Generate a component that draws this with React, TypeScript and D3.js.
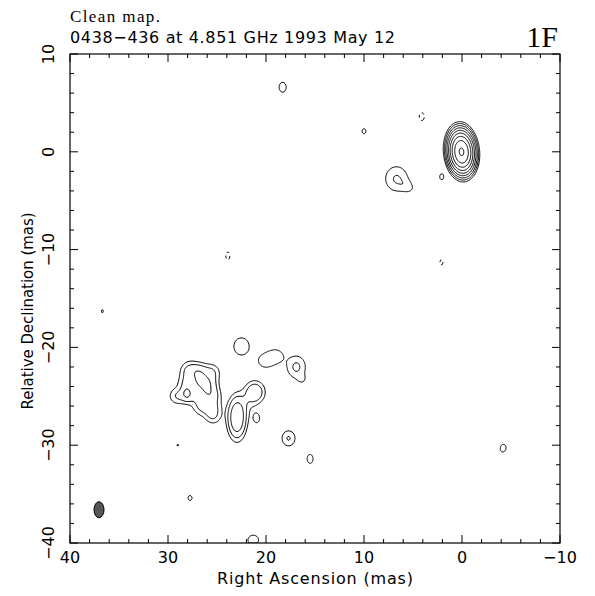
import React, { useMemo } from "react";
import * as d3 from "d3";

const W = 595;
const H = 596;
const FRAME = { left: 70, right: 560, top: 54, bottom: 543 };

const raDomain = [40, -10];
const decDomain = [10, -40];
const xMajorTicks = [40, 30, 20, 10, 0, -10];
const yMajorTicks = [10, 0, -10, -20, -30, -40];
const minorStep = 2;

const titleLine1 = "Clean map.";
const titleLine2 = "0438\u2212436 at 4.851 GHz 1993 May 12";
const panelLabel = "1F";
const xLabel = "Right Ascension  (mas)";
const yLabel = "Relative Declination  (mas)";

// Model components of the map: position (mas), peak (lowest-contour units),
// sigma along major / minor axis (mas), angle of major axis (deg, counter-clockwise from screen right)
const compRa = [
  0.05, 6.69, 5.51, 2.07, 18.3, 10.0, 4.1, 23.9, 2.1, 36.7, -4.2, 27.75, 21.3, 15.5, 29.0, 17.7,
  22.5, 20.1, 18.98, 16.9, 16.3,
  27.96, 26.73, 25.51, 28.16, 26.94, 25.71, 29.08, 27.86, 26.63, 25.51, 26.63, 25.51, 25.41, 26.43, 28.09,
  22.96, 21.13, 20.95, 22.04,
];
const compDec = [
  0.0, -2.75, -3.6, -2.55, 6.6, 2.1, 3.6, -10.65, -11.3, -16.3, -30.3, -35.4, -39.7, -31.4, -30.0, -29.3,
  -19.9, -21.39, -20.88, -22.0, -23.3,
  -22.41, -22.41, -22.52, -23.64, -23.64, -23.64, -24.97, -24.97, -24.87, -24.87, -26.09, -26.09, -27.01, -23.44, -24.69,
  -27.2, -24.57, -27.25, -25.58,
];
const compAmp = [
  280, 2.1, 1.0, 1.3, 1.5, 1.3, -1.3, -1.3, -1.2, 1.08, 1.4, 1.25, 1.5, 1.4, 1.05, 2.1,
  1.6, 1.45, 1.45, 2.26, 0.8,
  1.9, 1.9, 1.9, 1.9, 1.9, 1.9, 1.9, 1.9, 1.9, 1.9, 1.9, 1.9, 1.9, 2.0, 2.4,
  7.5, 3.6, 1.3, 0.9,
];
const compMaj = [
  0.92, 1.0, 0.6, 0.42, 0.56, 0.35, 0.55, 0.55, 0.45, 0.4, 0.48, 0.38, 0.6, 0.55, 0.3, 0.63,
  0.9, 0.7, 0.7, 0.86, 0.4,
  0.6, 0.6, 0.6, 0.6, 0.6, 0.6, 0.6, 0.6, 0.6, 0.6, 0.6, 0.6, 0.6, 1.4, 0.45,
  1.25, 0.72, 0.6, 0.9,
];
const compMin = [
  0.55, 0.9, 0.45, 0.28, 0.4, 0.28, 0.35, 0.28, 0.25, 0.25, 0.36, 0.3, 0.55, 0.37, 0.3, 0.54,
  0.8, 0.65, 0.65, 0.71, 0.4,
  0.6, 0.6, 0.6, 0.6, 0.6, 0.6, 0.6, 0.6, 0.6, 0.6, 0.6, 0.6, 0.6, 0.55, 0.32,
  0.56, 0.65, 0.4, 0.7,
];
const compAngle = [
  95, 90, -30, 90, 90, 90, 90, 90, 90, 90, 80, 90, 0, 90, 0, 90,
  90, 0, 0, 90, 0,
  0, 0, 0, 0, 0, 0, 0, 0, 0, 0, 0, 0, 0, -54, 90,
  90, 90, 90, 60,
];

const posLevels = [1, 2, 4, 8, 16, 32, 64, 128, 256];
const negLevels = [1];

// restoring beam (FWHM, mas)
const beamRa = [37.04];
const beamDec = [-36.6];
const beamMaj = [1.64];
const beamMin = [1.02];
const beamAngle = [0];

const RES = 0.1;
const NX = Math.round((raDomain[0] - raDomain[1]) / RES);
const NY = Math.round((decDomain[0] - decDomain[1]) / RES);

function buildGrid(): Float64Array {
  const v = new Float64Array(NX * NY);
  for (let k = 0; k < compRa.length; k++) {
    const a = compAmp[k];
    const s1 = compMaj[k];
    const s2 = compMin[k];
    const th = (compAngle[k] * Math.PI) / 180;
    const c = Math.cos(th);
    const s = Math.sin(th);
    const R = 5 * Math.max(s1, s2);
    const i0 = Math.max(0, Math.floor((raDomain[0] - (compRa[k] + R)) / RES));
    const i1 = Math.min(NX - 1, Math.ceil((raDomain[0] - (compRa[k] - R)) / RES));
    const j0 = Math.max(0, Math.floor((decDomain[0] - (compDec[k] + R)) / RES));
    const j1 = Math.min(NY - 1, Math.ceil((decDomain[0] - (compDec[k] - R)) / RES));
    for (let j = j0; j <= j1; j++) {
      const dec = decDomain[0] - (j + 0.5) * RES;
      const dv = dec - compDec[k];
      for (let i = i0; i <= i1; i++) {
        const ra = raDomain[0] - (i + 0.5) * RES;
        const du = compRa[k] - ra;
        const p = du * c + dv * s;
        const q = -du * s + dv * c;
        v[j * NX + i] += a * Math.exp(-0.5 * ((p * p) / (s1 * s1) + (q * q) / (s2 * s2)));
      }
    }
  }
  return v;
}

export default function App() {
  const x = d3.scaleLinear().domain(raDomain).range([FRAME.left, FRAME.right]);
  const y = d3.scaleLinear().domain(decDomain).range([FRAME.top, FRAME.bottom]);

  const { posPaths, negPaths } = useMemo(() => {
    const grid = buildGrid();
    const neg = grid.map((v) => -v);
    const toPath = (mp: any) => {
      let d = "";
      for (const poly of mp.coordinates) {
        for (const ring of poly) {
          ring.forEach((pt: number[], idx: number) => {
            const px = x(raDomain[0] - pt[0] * RES);
            const py = y(decDomain[0] - pt[1] * RES);
            d += (idx ? "L" : "M") + px.toFixed(2) + "," + py.toFixed(2);
          });
          d += "Z";
        }
      }
      return d;
    };
    const pos = d3.contours().size([NX, NY]).thresholds(posLevels)(Array.from(grid)).map(toPath);
    const ng = d3.contours().size([NX, NY]).thresholds(negLevels)(Array.from(neg)).map(toPath);
    return { posPaths: pos, negPaths: ng };
  }, []);

  const xMinor = d3.range(raDomain[1], raDomain[0] + 0.001, minorStep);
  const yMinor = d3.range(decDomain[1], decDomain[0] + 0.001, minorStep);
  const fmt = (v: number) => (v < 0 ? "\u2212" + Math.abs(v) : String(v));
  const sans = "'DejaVu Sans', sans-serif";

  const pxPerMasX = Math.abs(x(1) - x(0));
  const pxPerMasY = Math.abs(y(1) - y(0));

  return (
    <svg width={W} height={H} style={{ position: "absolute", left: 0, top: 0, background: "#fff" }}>
      <rect x={0} y={0} width={W} height={H} fill="#fff" />
      <defs>
        <clipPath id="plotclip">
          <rect x={FRAME.left} y={FRAME.top} width={FRAME.right - FRAME.left} height={FRAME.bottom - FRAME.top} />
        </clipPath>
      </defs>
      <g clipPath="url(#plotclip)" fill="none" stroke="#000" strokeWidth={1}>
        {posPaths.map((d, i) => (
          <path key={"p" + i} d={d} />
        ))}
        {negPaths.map((d, i) => (
          <path key={"n" + i} d={d} strokeDasharray="3,3" />
        ))}
      </g>
      {beamRa.map((b, i) => (
        <ellipse
          key={"beam" + i}
          cx={x(b)}
          cy={y(beamDec[i])}
          rx={(beamMin[i] / 2) * pxPerMasX}
          ry={(beamMaj[i] / 2) * pxPerMasY}
          transform={`rotate(${-beamAngle[i]} ${x(b)} ${y(beamDec[i])})`}
          fill="#555"
          stroke="#000"
          strokeWidth={1}
        />
      ))}
      <rect
        x={FRAME.left}
        y={FRAME.top}
        width={FRAME.right - FRAME.left}
        height={FRAME.bottom - FRAME.top}
        fill="none"
        stroke="#000"
        strokeWidth={1.2}
      />
      <g stroke="#000" strokeWidth={1}>
        {xMinor.map((v) => {
          const major = xMajorTicks.includes(v);
          const len = major ? 8 : 4;
          return (
            <g key={"xt" + v}>
              <line x1={x(v)} x2={x(v)} y1={FRAME.bottom} y2={FRAME.bottom - len} />
              <line x1={x(v)} x2={x(v)} y1={FRAME.top} y2={FRAME.top + len} />
            </g>
          );
        })}
        {yMinor.map((v) => {
          const major = yMajorTicks.includes(v);
          const len = major ? 8 : 4;
          return (
            <g key={"yt" + v}>
              <line x1={FRAME.left} x2={FRAME.left + len} y1={y(v)} y2={y(v)} />
              <line x1={FRAME.right} x2={FRAME.right - len} y1={y(v)} y2={y(v)} />
            </g>
          );
        })}
      </g>
      <g fontFamily={sans} fontSize={16} fill="#000">
        {xMajorTicks.map((v) => (
          <text key={"xl" + v} x={x(v)} y={563} textAnchor="middle">
            {fmt(v)}
          </text>
        ))}
        {yMajorTicks.map((v) => (
          <text key={"yl" + v} transform={`translate(54,${y(v)}) rotate(-90)`} textAnchor="middle">
            {fmt(v)}
          </text>
        ))}
        <text x={(FRAME.left + FRAME.right) / 2} y={584} textAnchor="middle" textLength={196} lengthAdjust="spacing">
          {xLabel}
        </text>
        <text
          transform={`translate(33,311) rotate(-90)`}
          textAnchor="middle"
          textLength={197}
          lengthAdjust="spacingAndGlyphs"
        >
          {yLabel}
        </text>
      </g>
      <text x={70} y={22} fontFamily="'Liberation Serif', serif" fontSize={17} textLength={90} lengthAdjust="spacing">
        {titleLine1}
      </text>
      <text x={70} y={43} fontFamily={sans} fontSize={16} textLength={325} lengthAdjust="spacing">
        {titleLine2}
      </text>
      <text x={558} y={47} fontFamily="'Liberation Serif', serif" fontSize={30} textAnchor="end">
        {panelLabel}
      </text>
    </svg>
  );
}
